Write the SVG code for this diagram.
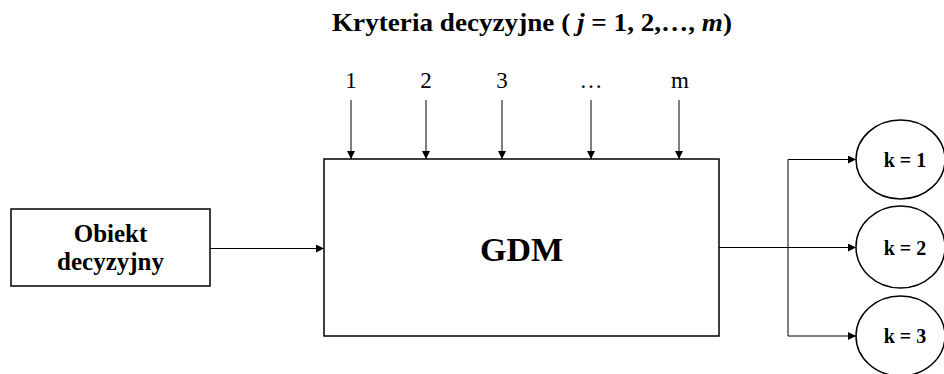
<svg xmlns="http://www.w3.org/2000/svg" width="944" height="374" viewBox="0 0 944 374">
<style>
  .box{fill:#fff;stroke:#000;stroke-width:1.5}
  .line{fill:none;stroke:#000;stroke-width:1}
  .t{font-family:"Liberation Serif","Times New Roman",serif;fill:#000}
  .b{font-weight:bold}
</style>
<defs>
  <marker id="ah" viewBox="0 0 10 10" refX="10" refY="5" markerWidth="8" markerHeight="8" markerUnits="userSpaceOnUse" orient="auto">
    <path d="M0,0 L10,5 L0,10 Z" fill="#000"/>
  </marker>
</defs>
<rect width="944" height="374" fill="#fff"/>

<g id="title">
  <text class="t b" x="332" y="31" font-size="25" textLength="400" lengthAdjust="spacingAndGlyphs">Kryteria decyzyjne ( <tspan font-style="italic">j</tspan> = 1, 2,…, <tspan font-style="italic">m</tspan>)</text>
</g>

<g id="criteria-labels" class="t" font-size="23" text-anchor="middle">
  <text x="351" y="88">1</text>
  <text x="426" y="88">2</text>
  <text x="502" y="88">3</text>
  <text x="591" y="88">…</text>
  <text x="680" y="88">m</text>
</g>

<g id="obiekt">
  <rect class="box" x="11" y="209" width="199" height="77"/>
  <text class="t b" x="110.5" y="241.5" font-size="25" text-anchor="middle">Obiekt</text>
  <text class="t b" x="110.5" y="270" font-size="25" text-anchor="middle">decyzyjny</text>
</g>

<g id="gdm">
  <rect class="box" x="324" y="159" width="395" height="177"/>
  <text class="t b" x="521.5" y="261" font-size="34" text-anchor="middle">GDM</text>
</g>

<g id="k1">
  <ellipse class="box" cx="900.5" cy="159.5" rx="44.5" ry="39.5"/>
  <text class="t b" x="905" y="166.5" font-size="20" text-anchor="middle">k = 1</text>
</g>
<g id="k2">
  <ellipse class="box" cx="900.5" cy="247" rx="44.5" ry="41"/>
  <text class="t b" x="905" y="255" font-size="20" text-anchor="middle">k = 2</text>
</g>
<g id="k3">
  <ellipse class="box" cx="900.5" cy="336" rx="44.5" ry="40"/>
  <text class="t b" x="905" y="343" font-size="20" text-anchor="middle">k = 3</text>
</g>

<g id="connectors" class="line">
  <line x1="351" y1="100" x2="351" y2="159" marker-end="url(#ah)"/>
  <line x1="426" y1="100" x2="426" y2="159" marker-end="url(#ah)"/>
  <line x1="502" y1="100" x2="502" y2="159" marker-end="url(#ah)"/>
  <line x1="591" y1="100" x2="591" y2="159" marker-end="url(#ah)"/>
  <line x1="679" y1="100" x2="679" y2="159" marker-end="url(#ah)"/>
  <line x1="210" y1="248.5" x2="324" y2="248.5" marker-end="url(#ah)"/>
  <line x1="719" y1="247.5" x2="788" y2="247.5"/>
  <line x1="788" y1="159.5" x2="788" y2="336"/>
  <line x1="788" y1="159.5" x2="856" y2="159.5" marker-end="url(#ah)"/>
  <line x1="788" y1="247.5" x2="856" y2="247.5" marker-end="url(#ah)"/>
  <line x1="788" y1="336" x2="856" y2="336" marker-end="url(#ah)"/>
</g>
</svg>
